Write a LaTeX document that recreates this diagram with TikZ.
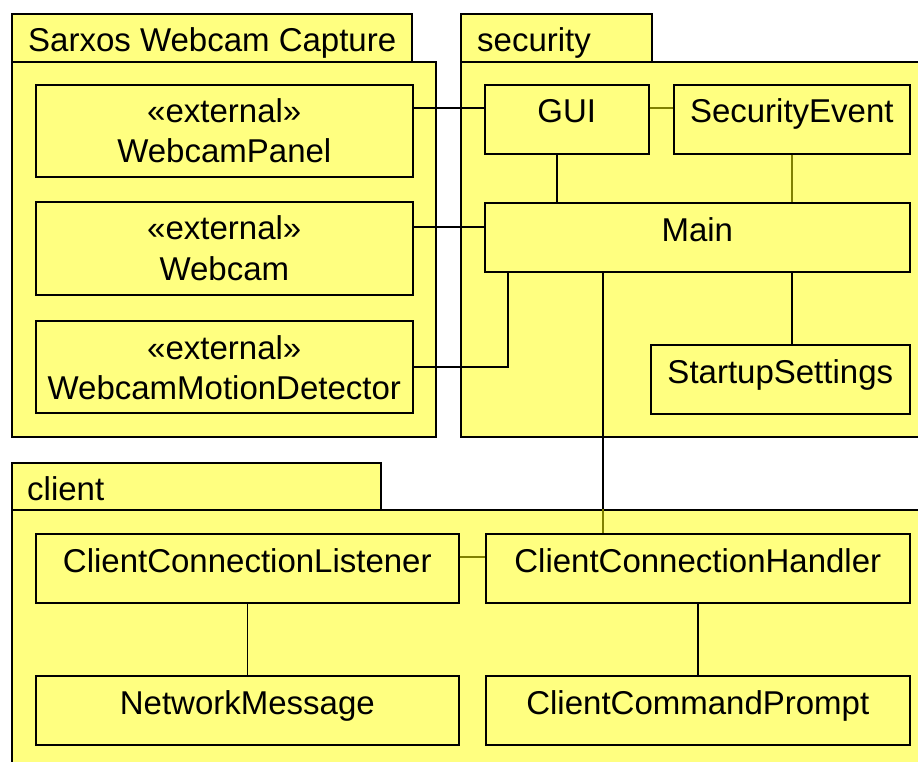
\documentclass[tikz,border=0pt]{standalone}
\usepackage{fontspec}
\setmainfont{Liberation Sans}
\begin{document}
\begin{tikzpicture}[x=1pt,y=-1pt]
\definecolor{umlyellow}{RGB}{255,255,128}
\definecolor{umlolive}{RGB}{128,128,0}
\tikzset{
  pkgpart/.style={draw=black, fill=umlyellow, line width=1.6pt, inner sep=0pt, anchor=north west},
  classbox/.style={draw=black, fill=umlyellow, line width=1.6pt, inner sep=0pt, anchor=north west},
  nametext/.style={anchor=base, inner sep=0pt, font=\fontsize{33}{40}\selectfont},
  link/.style={draw=black, line width=1.4pt},
  faintlink/.style={draw=umlolive, line width=1.4pt},
}
\useasboundingbox (0,0) rectangle (918,762);

% ---- packages ----
\node[pkgpart, minimum width=400pt, minimum height=48pt] (sxtab) at (11,13) {};
\node[pkgpart, minimum width=424pt, minimum height=375pt] (sxbody) at (11,61) {};
\node[nametext, anchor=base west] (sxname) at ([xshift=17pt,yshift=-39pt]sxtab.north west) {Sarxos Webcam Capture};

\node[pkgpart, minimum width=191pt, minimum height=48pt] (sectab) at (460,13) {};
\node[pkgpart, minimum width=480pt, minimum height=375pt] (secbody) at (460,61) {};
\node[nametext, anchor=base west] (secname) at ([xshift=17pt,yshift=-39pt]sectab.north west) {security};

\node[pkgpart, minimum width=369pt, minimum height=47pt] (cltab) at (11,462) {};
\node[pkgpart, minimum width=930pt, minimum height=270pt] (clbody) at (11,509) {};
\node[nametext, anchor=base west] (clname) at ([xshift=16pt,yshift=-38pt]cltab.north west) {client};

% ---- classes ----
\node[classbox, minimum width=377pt, minimum height=92pt] (panel) at (35,84) {};
\node[nametext] (panel-st) at ([yshift=-39pt]panel.north) {«external»};
\node[nametext] (panel-nm) at ([yshift=-79pt]panel.north) {WebcamPanel};

\node[classbox, minimum width=377pt, minimum height=93pt] (webcam) at (35,201) {};
\node[nametext] (webcam-st) at ([yshift=-39pt]webcam.north) {«external»};
\node[nametext] (webcam-nm) at ([yshift=-79pt]webcam.north) {Webcam};

\node[classbox, minimum width=377pt, minimum height=92pt] (motion) at (35,320) {};
\node[nametext] (motion-st) at ([yshift=-39pt]motion.north) {«external»};
\node[nametext] (motion-nm) at ([yshift=-79pt]motion.north) {WebcamMotionDetector};

\node[classbox, minimum width=164pt, minimum height=69pt] (gui) at (484,84) {};
\node[nametext] (gui-nm) at ([yshift=-39pt]gui.north) {GUI};

\node[classbox, minimum width=236pt, minimum height=69pt] (secev) at (673,84) {};
\node[nametext] (secev-nm) at ([yshift=-39pt]secev.north) {SecurityEvent};

\node[classbox, minimum width=425pt, minimum height=69pt] (main) at (484,202) {};
\node[nametext] (main-nm) at ([yshift=-39pt]main.north) {Main};

\node[classbox, minimum width=259pt, minimum height=69pt] (startup) at (650,344) {};
\node[nametext] (startup-nm) at ([yshift=-39pt]startup.north) {StartupSettings};

\node[classbox, minimum width=423pt, minimum height=69pt] (listener) at (35,533) {};
\node[nametext] (listener-nm) at ([yshift=-39pt]listener.north) {ClientConnectionListener};

\node[classbox, minimum width=424pt, minimum height=69pt] (handler) at (485,533) {};
\node[nametext] (handler-nm) at ([yshift=-39pt]handler.north) {ClientConnectionHandler};

\node[classbox, minimum width=423pt, minimum height=69pt] (netmsg) at (35,675) {};
\node[nametext] (netmsg-nm) at ([yshift=-39pt]netmsg.north) {NetworkMessage};

\node[classbox, minimum width=424pt, minimum height=69pt] (prompt) at (485,675) {};
\node[nametext] (prompt-nm) at ([yshift=-39pt]prompt.north) {ClientCommandPrompt};

% ---- associations ----
\draw[link] ([yshift=-24pt]panel.north east) -- ([yshift=-24pt]gui.north west);
\draw[link] ([yshift=-26pt]webcam.north east) coordinate (w1) -- (w1 -| main.west);
\draw[link] (motion.east) -| ([xshift=24pt]main.south west);

\draw[faintlink] ([yshift=-24pt]gui.north east) -- ([yshift=-24pt]secev.north west);
\draw[link] ([xshift=-10pt]gui.south) coordinate (g1) -- (g1 |- main.north);
\draw[faintlink] (secev.south) -- (secev.south |- main.north);
\draw[link] (secev.south |- main.south) -- (secev.south |- startup.north);

\coordinate (cross) at (603,509);
\draw[link] (cross |- main.south) -- (cross);
\draw[faintlink] (cross) -- (cross |- handler.north);

\draw[faintlink] ([yshift=-24pt]listener.north east) -- ([yshift=-24pt]handler.north west);
\draw[link] (listener.south) -- (netmsg.north);
\draw[link] (handler.south) -- (prompt.north);
\end{tikzpicture}
\end{document}
